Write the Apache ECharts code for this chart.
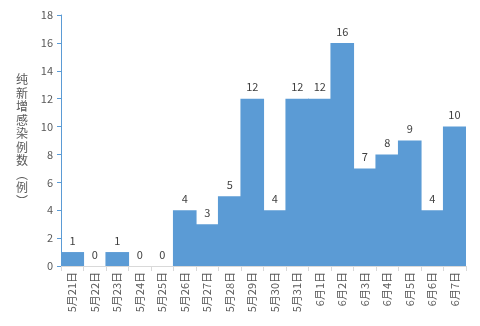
<!DOCTYPE html>
<html>
<head>
<meta charset="utf-8">
<script src="https://cdn.jsdelivr.net/npm/echarts@6/dist/echarts.min.js"></script>
<style>html,body{margin:0;padding:0;background:#fff}#c{width:480px;height:326px}</style>
</head>
<body>
<div id="c"></div>
<script>
// Daily net new infections, 21 May – 7 June
const categories = ['5月21日','5月22日','5月23日','5月24日','5月25日','5月26日','5月27日','5月28日','5月29日','5月30日','5月31日','6月1日','6月2日','6月3日','6月4日','6月5日','6月6日','6月7日'];
const cases = [1,0,1,0,0,4,3,5,12,4,12,12,16,7,8,9,4,10];
const yTicks = [0,2,4,6,8,10,12,14,16,18];
const yTitle = '纯新增感染例数︵例︶';

const font = '"Noto Sans CJK SC", "Microsoft YaHei", sans-serif';
const chart = echarts.init(document.getElementById('c'));
chart.setOption({
  animation: false,
  grid: { left: 61, right: 14, top: 15, bottom: 60, containLabel: false },
  xAxis: {
    type: 'category',
    data: categories,
    splitLine: { show: false },
    axisLine: { lineStyle: { color: '#d9d9d9' } },
    axisTick: { show: true, length: 5, lineStyle: { color: '#d9d9d9' } },
    axisLabel: { rotate: 90, interval: 0, margin: 6, color: '#595959', fontSize: 11, fontFamily: font }
  },
  yAxis: {
    type: 'value',
    min: yTicks[0], max: yTicks[yTicks.length - 1], interval: 2,
    name: yTitle.split('').join('\n'),
    nameLocation: 'middle', nameRotate: 0, nameGap: 33,
    nameTextStyle: { color: '#595959', fontSize: 12, fontFamily: font, lineHeight: 13.5 },
    axisLine: { show: true, lineStyle: { color: '#5b9bd5' } },
    axisTick: { show: true, length: 4, lineStyle: { color: '#5b9bd5' } },
    splitLine: { show: false },
    axisLabel: { margin: 8, color: '#595959', fontSize: 11, fontFamily: font }
  },
  series: [{
    type: 'bar',
    data: cases,
    // slight overlap so adjacent bars join without hairline seams
    barWidth: '105%',
    itemStyle: { color: '#5b9bd5', borderWidth: 0 },
    label: { show: true, position: 'top', distance: 6, color: '#404040', fontSize: 11, fontFamily: font }
  }]
});
</script>
</body>
</html>
